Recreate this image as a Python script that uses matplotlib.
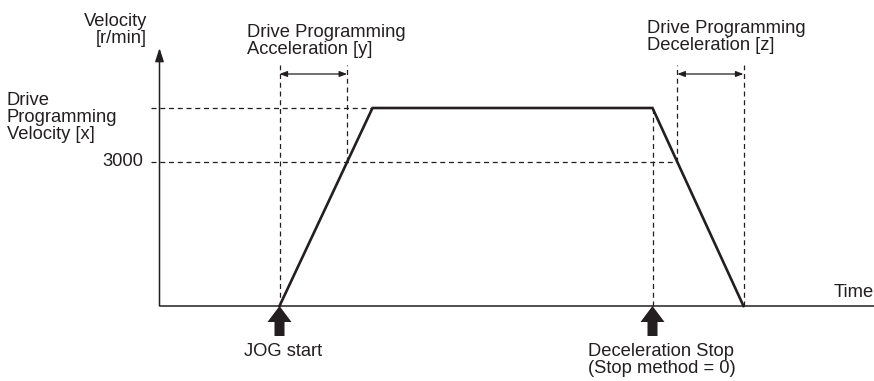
import matplotlib
matplotlib.use('Agg')
import matplotlib.pyplot as plt
from matplotlib.patches import FancyArrow

plt.rcParams['font.family'] = ['Liberation Sans', 'DejaVu Sans']

# Velocity profile (time in arbitrary units, velocity in r/min)
profile_time = [120, 213, 493, 584]
profile_vel = [0, 4125, 4125, 0]
v_ref = 3000            # reference level marked on the velocity axis
event_times = [120, 493]
event_labels = ['JOG start', 'Deceleration Stop\n(Stop method = 0)']
vel_labels = ['Drive\nProgramming\nVelocity [x]', '3000']

INK = '#231f20'
FS = 13.2
LS = 1.0

# pixel -> data helpers (layout only)
X0, Y0 = 159.5, 306.0
K = v_ref / 144.0
def at(x, y):
    return (x - X0, (Y0 - y) * K)

fig = plt.figure(figsize=(8.74, 3.81), dpi=100)
ax = fig.add_axes([0, 0, 1, 1])
ax.set_xlim(-X0, 874 - X0)
ax.set_ylim(-(381 - Y0) * K, Y0 * K)
ax.axis('off')

t_start, t_acc, t_dec, t_stop = profile_time
v_x = profile_vel[1]
# where the ramps cross the 3000 level
t_acc3 = t_start + v_ref / v_x * (t_acc - t_start)
t_dec3 = t_dec + (v_x - v_ref) / v_x * (t_stop - t_dec)

v_top = (Y0 - 65) * K      # top of the dashed guides
v_dim = (Y0 - 74) * K      # level of the dimension arrows
dash = dict(color=INK, lw=0.9, ls=(0, (4, 3)))

# axes
ax.plot([0, 874 - X0], [0, 0], color=INK, lw=1.1, solid_capstyle='butt')
ax.annotate('', xy=(0, (Y0 - 48) * K), xytext=(0, 0),
            arrowprops=dict(arrowstyle='-|>,head_length=0.8,head_width=0.26',
                            color=INK, lw=1.1, shrinkA=0, shrinkB=0))

# dashed guides
ax.plot([-9, t_acc], [v_x, v_x], **dash)
ax.plot([-9, t_dec3], [v_ref, v_ref], **dash)
ax.plot([t_start, t_start], [0, v_top], **dash)
ax.plot([t_acc3, t_acc3], [v_ref, v_top], **dash)
ax.plot([t_dec, t_dec], [0, v_x], **dash)
ax.plot([t_dec3, t_dec3], [v_ref, v_top], **dash)
ax.plot([t_stop, t_stop], [0, v_top], **dash)

# velocity profile
ax.plot(profile_time, profile_vel, color=INK, lw=1.9, solid_joinstyle='miter')

# dimension arrows
for a, b in [(t_start, t_acc3), (t_dec3, t_stop)]:
    ax.annotate('', xy=(b, v_dim), xytext=(a, v_dim),
                arrowprops=dict(arrowstyle='<|-|>,head_length=0.45,head_width=0.17',
                                color=INK, lw=0.9, shrinkA=0, shrinkB=0))

# event arrows
for t in event_times:
    ax.add_patch(FancyArrow(t, -30 * K, 0, 30 * K, width=10, head_width=24,
                            head_length=16 * K, length_includes_head=True,
                            color=INK, lw=0))

# text
ax.text(*at(147, 13), 'Velocity\n[r/min]', ha='right', va='top',
        multialignment='right', fontsize=FS, color=INK, linespacing=LS)
ax.text(*at(247, 24), 'Drive Programming\nAcceleration [y]', ha='left', va='top',
        fontsize=FS, color=INK, linespacing=LS)
ax.text(*at(647, 20), 'Drive Programming\nDeceleration [z]', ha='left', va='top',
        fontsize=FS, color=INK, linespacing=LS)
ax.text(*at(7, 92), vel_labels[0], ha='left', va='top',
        fontsize=FS, color=INK, linespacing=LS)
ax.text(-16, v_ref, vel_labels[1], ha='right', va='center', fontsize=FS, color=INK)
ax.text(*at(834, 297), 'Time', ha='left', va='baseline', fontsize=FS, color=INK)
ax.text(event_times[0] + 4, -45 * K, event_labels[0], ha='center', va='center',
        fontsize=FS, color=INK)
ax.text(event_times[1] + 9, -37 * K, event_labels[1], ha='center', va='top',
        fontsize=FS, color=INK, linespacing=LS)

plt.savefig('out.png', dpi=100)
